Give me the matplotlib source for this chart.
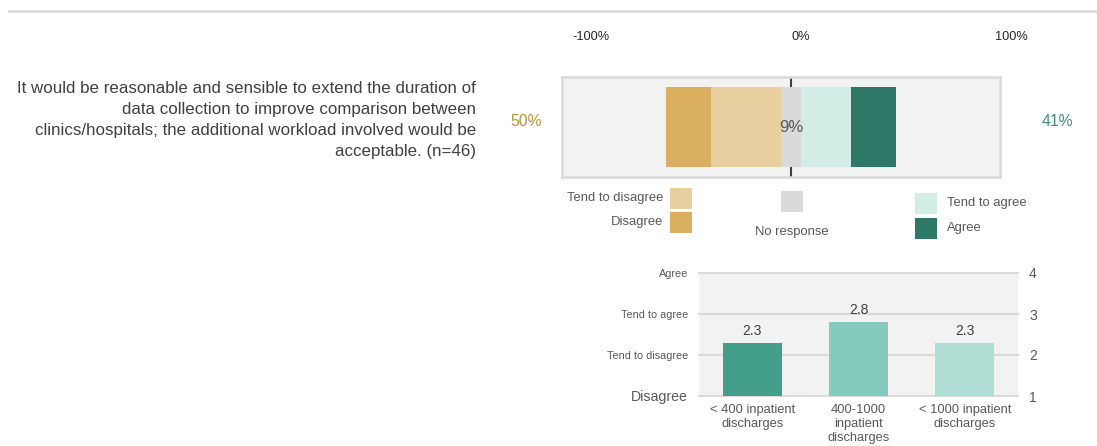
import matplotlib
matplotlib.use("Agg")
import matplotlib.pyplot as plt
from matplotlib.patches import Rectangle
from matplotlib.lines import Line2D

plt.rcParams["font.family"] = ["Liberation Sans", "DejaVu Sans"]

# ---- data ----
question = ("It would be reasonable and sensible to extend the duration of\n"
            "data collection to improve comparison between\n"
            "clinics/hospitals; the additional workload involved would be\n"
            "acceptable. (n=46)")
likert_labels = ["Disagree", "Tend to disagree", "No response", "Tend to agree", "Agree"]
likert_shares = [19.6, 30.4, 8.7, 21.7, 19.6]   # percent of respondents
likert_colors = ["#dab060", "#e8cf9f", "#d9d9d9", "#d2ece6", "#2e7867"]
scale_ticks = [-100, 0, 100]

groups = ["< 400 inpatient\ndischarges", "400-1000\ninpatient\ndischarges",
          "< 1000 inpatient\ndischarges"]
group_means = [2.3, 2.8, 2.3]
group_colors = ["#439e8a", "#84cbbd", "#b0ded4"]
mean_levels = [1, 2, 3, 4]
level_names = ["Disagree", "Tend to disagree", "Tend to agree", "Agree"]

W, H = 1097, 446
fig = plt.figure(figsize=(W / 100, H / 100), dpi=100)


def fx(px):
    return px / W


def fy(py):
    return 1 - py / H


text_dark = "#404040"
text_mid = "#595959"

# separator line at the top
fig.add_artist(Line2D([fx(9), fx(1097)], [fy(11), fy(11)], color="#d9d9d9",
                      lw=2, transform=fig.transFigure))

# question text
fig.text(fx(476), fy(120), question, ha="right", va="center", fontsize=12.2,
         color=text_dark, linespacing=1.52)

# ---- diverging stacked bar ----
ax1 = fig.add_axes([fx(562), fy(177), fx(1000) - fx(562), fy(77) - fy(177)])
ax1.set_facecolor("#f2f2f2")
ax1.set_ylim(-0.5, 0.5)
ax1.set_xlim(-99.6, 90.9)
for s in ax1.spines.values():
    s.set_color("#d9d9d9")
    s.set_linewidth(1.8)
ax1.set_xticks([])
ax1.set_yticks([])
ax1.axvline(0, color=text_dark, lw=1.5, zorder=1)

dis, tdis, nores, tagr, agr = likert_shares
left_start = -nores / 2
# negative side, built outwards from the neutral block
ax1.barh(0, tdis, left=left_start - tdis, height=0.8, color=likert_colors[1], zorder=2)
ax1.barh(0, dis, left=left_start - tdis - dis, height=0.8, color=likert_colors[0], zorder=2)
ax1.barh(0, nores, left=left_start, height=0.8, color=likert_colors[2], zorder=2)
ax1.barh(0, tagr, left=nores / 2, height=0.8, color=likert_colors[3], zorder=2)
ax1.barh(0, agr, left=nores / 2 + tagr, height=0.8, color=likert_colors[4], zorder=2)
ax1.text(0, 0, f"{round(nores)}%", ha="center", va="center", fontsize=12,
         color=text_mid, zorder=3)

fig.text(fx(526), fy(122), f"{round(dis + tdis)}%", ha="center", va="center",
         fontsize=11.3, color="#b8923d")
fig.text(fx(1057), fy(122), f"{round(tagr + agr)}%", ha="center", va="center",
         fontsize=11.3, color="#3f8d79")

# percentage scale above the bar
axs = fig.add_axes([fx(591), fy(44), fx(1011) - fx(591), 0.0001])
axs.set_xlim(-100, 100)
axs.set_xticks(scale_ticks)
axs.set_xticklabels([f"{t}%" for t in scale_ticks])
axs.xaxis.tick_top()
axs.tick_params(axis="x", length=0, pad=1, labelsize=9.2, labelcolor="#262626")
axs.set_yticks([])
for s in axs.spines.values():
    s.set_visible(False)
axs.patch.set_visible(False)

# legend swatches
legend_items = [
    ("Tend to disagree", likert_colors[1], (670, 188), "left"),
    ("Disagree", likert_colors[0], (670, 212), "left"),
    ("No response", likert_colors[2], (781, 191), "below"),
    ("Tend to agree", likert_colors[3], (915, 193), "right"),
    ("Agree", likert_colors[4], (915, 218), "right"),
]
sw, sh = 22, 21
for name, col, (x0, y0), side in legend_items:
    fig.add_artist(Rectangle((fx(x0), fy(y0 + sh)), sw / W, sh / H,
                             facecolor=col, edgecolor="none",
                             transform=fig.transFigure))
    yc = y0 + sh / 2
    if side == "left":
        fig.text(fx(x0 - 7), fy(yc), name, ha="right", va="center",
                 fontsize=9.4, color=text_mid)
    elif side == "right":
        fig.text(fx(x0 + sw + 10), fy(yc), name, ha="left", va="center",
                 fontsize=9.4, color=text_mid)
    else:
        fig.text(fx(x0 + sw / 2), fy(232), name, ha="center", va="center",
                 fontsize=9.4, color=text_mid)

# ---- mean score by hospital size ----
ax2 = fig.add_axes([fx(699), fy(396), fx(1018) - fx(699), fy(273) - fy(396)])
ax2.set_facecolor("#f2f2f2")
ax2.set_xlim(-0.5, len(groups) - 0.5)
ax2.set_ylim(1, 4)
for s in ax2.spines.values():
    s.set_visible(False)
for lv in mean_levels:
    ax2.axhline(lv, color="#d9d9d9", lw=1.5, zorder=1, clip_on=False)
xs = list(range(len(groups)))
bars = ax2.bar(xs, [m - 1 for m in group_means], bottom=1, width=0.555,
               color=group_colors, zorder=2)
for x, m in zip(xs, group_means):
    ax2.text(x, m + 0.12, f"{m:.1f}", ha="center", va="bottom", fontsize=10,
             color=text_dark)
ax2.set_xticks(xs)
ax2.set_xticklabels(groups, fontsize=9.3, color=text_mid)
ax2.tick_params(axis="x", length=0, pad=6)
ax2.set_yticks(mean_levels)
ax2.set_yticklabels(level_names, color=text_mid)
for lbl in ax2.get_yticklabels():
    lbl.set_fontsize(10.2 if lbl.get_text() == "Disagree" else 7.8)
ax2.tick_params(axis="y", length=0, pad=8)

ax3 = ax2.twinx()
ax3.set_ylim(1, 4)
ax3.set_yticks(mean_levels)
ax3.set_yticklabels([str(v) for v in mean_levels])
ax3.tick_params(axis="y", length=0, pad=8, labelsize=10, labelcolor=text_mid)
for s in ax3.spines.values():
    s.set_visible(False)

fig.savefig("out.png", dpi=100)
